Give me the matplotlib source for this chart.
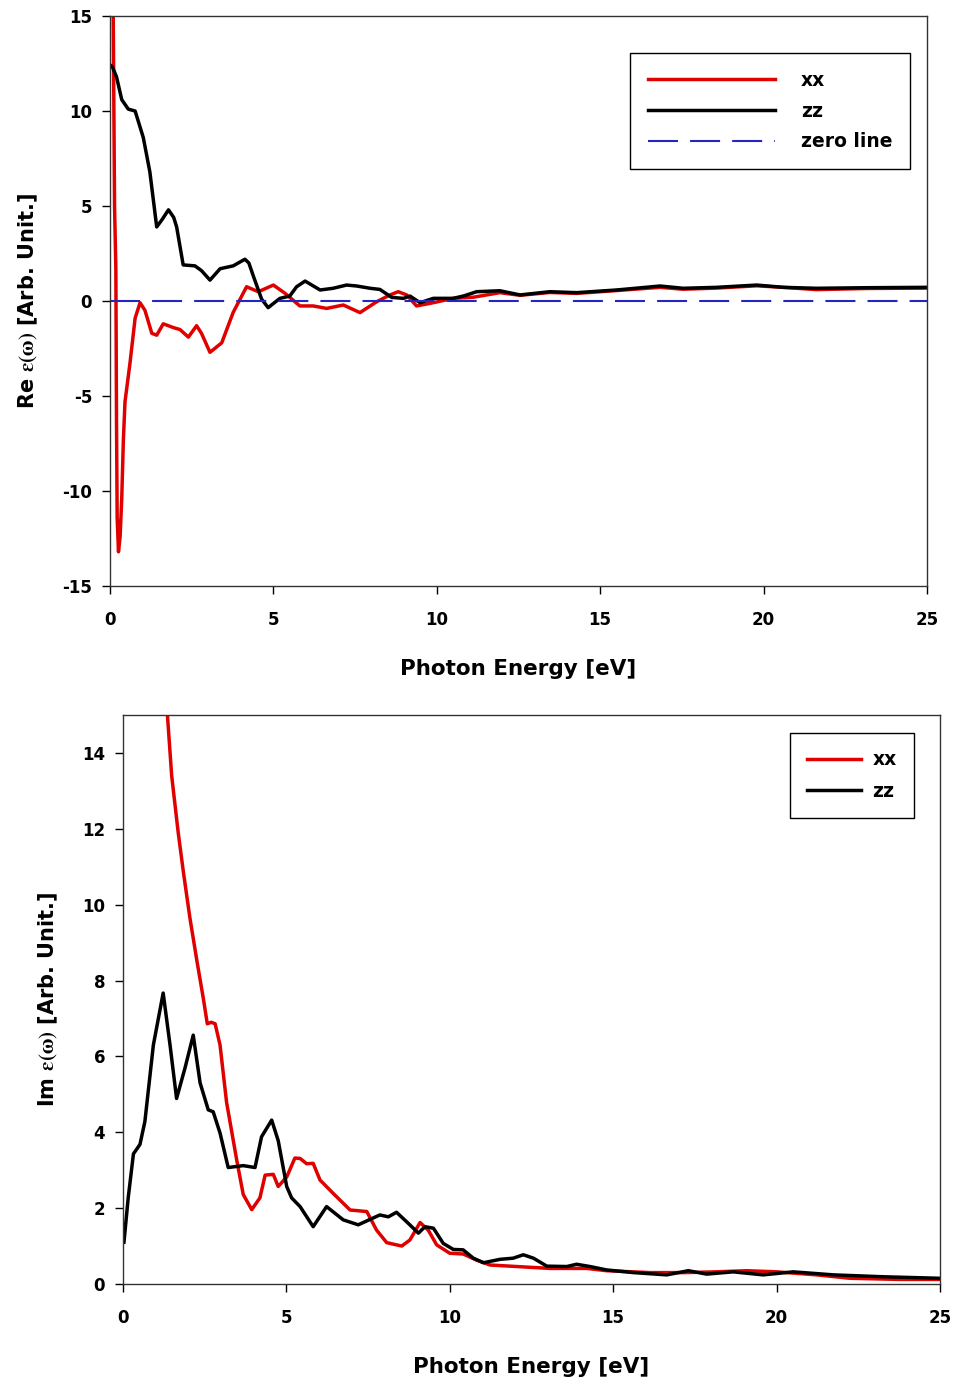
import numpy as np
import matplotlib
matplotlib.use("Agg")
import matplotlib.pyplot as plt

plt.rcParams["font.family"] = ["DejaVu Sans"]
plt.rcParams["font.weight"] = "bold"
plt.rcParams["axes.labelweight"] = "bold"
plt.rcParams["axes.unicode_minus"] = False
plt.rcParams["mathtext.fontset"] = "stix"

# Real part, xx
re_xx_e = [0.0, 0.06, 0.1, 0.14, 0.18, 0.2, 0.22, 0.26, 0.31, 0.36, 0.41, 0.46, 0.61, 0.77,
           0.92, 1.07, 1.28, 1.43, 1.63, 1.94, 2.14, 2.4, 2.65, 2.8, 3.06, 3.42, 3.77, 4.18,
           4.54, 5.0, 5.36, 5.81, 6.22, 6.63, 7.14, 7.65, 8.16, 8.57, 8.82, 9.08, 9.38, 9.89,
           10.5, 11.12, 11.93, 12.55, 13.46, 14.28, 15.5, 16.83, 17.54, 18.56, 19.79, 20.6,
           21.62, 23.15, 25.0]
re_xx = [60, 30, 15, 5, 1.7, -6.3, -11.4, -13.2, -12.4, -10.4, -7.3, -5.3, -3.3, -0.9,
         -0.09, -0.49, -1.7, -1.8, -1.2, -1.4, -1.5, -1.9, -1.3, -1.7, -2.7, -2.2, -0.6, 0.75,
         0.49, 0.84, 0.4, -0.26, -0.26, -0.39, -0.21, -0.61, -0.04, 0.32, 0.49, 0.32, -0.26, -0.09,
         0.14, 0.2, 0.44, 0.3, 0.45, 0.4, 0.55, 0.72, 0.62, 0.68, 0.8, 0.72,
         0.6, 0.66, 0.68]

# Real part, zz
re_zz_e = [0.02, 0.08, 0.2, 0.36, 0.56, 0.77, 1.02, 1.22, 1.43, 1.6, 1.79, 1.95, 2.04, 2.24,
           2.6, 2.8, 3.06, 3.37, 3.77, 4.13, 4.25, 4.39, 4.64, 4.84, 5.2, 5.5, 5.71, 5.97,
           6.43, 6.83, 7.24, 7.55, 7.96, 8.26, 8.62, 8.98, 9.18, 9.49, 9.89, 10.5, 10.81, 11.22,
           11.93, 12.55, 13.46, 14.28, 15.5, 16.83, 17.54, 18.56, 19.79, 20.6, 21.62, 23.15, 25.0]
re_zz = [12.4, 12.3, 11.8, 10.6, 10.1, 10.0, 8.6, 6.8, 3.9, 4.3, 4.8, 4.4, 3.9, 1.9,
         1.85, 1.6, 1.1, 1.7, 1.85, 2.2, 2.0, 1.3, 0.1, -0.35, 0.14, 0.26, 0.75, 1.05,
         0.58, 0.67, 0.84, 0.79, 0.67, 0.61, 0.19, 0.14, 0.26, -0.09, 0.14, 0.14, 0.26, 0.49,
         0.54, 0.32, 0.49, 0.44, 0.58, 0.79, 0.67, 0.72, 0.84, 0.72, 0.67, 0.7, 0.72]

# Imaginary part, xx
im_xx_e = [1.3, 1.36, 1.49, 1.69, 1.85, 2.05, 2.26, 2.46, 2.58, 2.7, 2.82, 2.97, 3.17, 3.48,
           3.68, 3.94, 4.19, 4.35, 4.6, 4.75, 5.01, 5.26, 5.42, 5.62, 5.82, 6.03, 6.43, 6.95,
           7.46, 7.76, 8.07, 8.53, 8.78, 9.09, 9.34, 9.6, 10.0, 10.41, 10.82, 11.23, 12.05,
           13.07, 14.19, 14.8, 16.13, 17.19, 18.16, 19.08, 20.0, 21.23, 22.25, 23.78, 25.0]
im_xx = [16.0, 15.0, 13.4, 11.9, 10.85, 9.64, 8.53, 7.52, 6.86, 6.9, 6.86, 6.3, 4.79, 3.27,
         2.36, 1.96, 2.27, 2.87, 2.89, 2.57, 2.82, 3.32, 3.31, 3.17, 3.18, 2.74, 2.39, 1.95,
         1.91, 1.42, 1.09, 1.0, 1.16, 1.62, 1.42, 1.03, 0.81, 0.79, 0.63, 0.5, 0.46,
         0.41, 0.41, 0.35, 0.3, 0.3, 0.32, 0.35, 0.32, 0.24, 0.15, 0.12, 0.12]

# Imaginary part, zz
im_zz_e = [0.03, 0.16, 0.32, 0.52, 0.67, 0.93, 1.23, 1.44, 1.64, 1.9, 2.15, 2.36, 2.61, 2.76,
           2.97, 3.22, 3.68, 4.04, 4.24, 4.55, 4.75, 5.01, 5.16, 5.42, 5.82, 6.23, 6.74, 7.2,
           7.86, 8.12, 8.37, 8.68, 9.04, 9.24, 9.5, 9.8, 10.11, 10.41, 10.72, 11.03, 11.54,
           11.94, 12.25, 12.56, 12.97, 13.58, 13.88, 14.29, 14.8, 15.62, 16.64, 17.3, 17.86,
           18.67, 19.59, 20.51, 21.74, 23.27, 25.0]
im_zz = [1.1, 2.27, 3.43, 3.68, 4.28, 6.3, 7.67, 6.3, 4.89, 5.7, 6.56, 5.3, 4.59, 4.54,
         3.98, 3.07, 3.12, 3.07, 3.88, 4.32, 3.78, 2.57, 2.27, 2.04, 1.51, 2.04, 1.69, 1.56,
         1.82, 1.77, 1.89, 1.64, 1.34, 1.51, 1.47, 1.07, 0.91, 0.9, 0.68, 0.56, 0.65,
         0.68, 0.77, 0.68, 0.47, 0.46, 0.52, 0.46, 0.37, 0.3, 0.24, 0.35, 0.26,
         0.32, 0.24, 0.32, 0.24, 0.19, 0.15]

RED = "#e00000"
BLUE = "#2525c0"

fig = plt.figure(figsize=(9.63, 13.83), dpi=100)
ax1 = fig.add_axes([0.1142, 0.5763, 0.8484, 0.4121])
ax2 = fig.add_axes([0.1277, 0.0716, 0.8484, 0.4114])

lw = 2.5
ax1.plot(re_xx_e, re_xx, color=RED, lw=lw, label="xx", solid_joinstyle="round")
ax1.plot(re_zz_e, re_zz, color="black", lw=lw, label="zz", solid_joinstyle="round")
ax1.plot([0, 25], [0, 0], color=BLUE, lw=1.5, dashes=(14.4, 5.8), label="zero line")
ax1.set_xlim(0, 25)
ax1.set_ylim(-15, 15)
ax1.set_xticks(np.arange(0, 26, 5))
ax1.set_yticks(np.arange(-15, 16, 5))
ax1.set_xlabel("Photon Energy [eV]", fontsize=15.5, labelpad=22)
ax1.set_ylabel(r"Re $\mathrm{\varepsilon(\omega)}$ [Arb. Unit.]", fontsize=15, labelpad=16)
ax1.legend(loc="upper left", bbox_to_anchor=(0.6365, 0.935), fontsize=13.5, frameon=True,
           fancybox=False, edgecolor="black", framealpha=1, handlelength=6.8,
           handletextpad=1.35, labelspacing=0.62, borderpad=0.95, borderaxespad=0)

ax2.plot(im_xx_e, im_xx, color=RED, lw=lw, label="xx", solid_joinstyle="round")
ax2.plot(im_zz_e, im_zz, color="black", lw=lw, label="zz", solid_joinstyle="round")
ax2.set_xlim(0, 25)
ax2.set_ylim(0, 15)
ax2.set_xticks(np.arange(0, 26, 5))
ax2.set_yticks(np.arange(0, 15, 2))
ax2.set_xlabel("Photon Energy [eV]", fontsize=15.5, labelpad=22)
ax2.set_ylabel(r"Im $\mathrm{\varepsilon(\omega)}$ [Arb. Unit.]", fontsize=15, labelpad=16)
ax2.legend(loc="upper left", bbox_to_anchor=(0.8164, 0.968), fontsize=13.5, frameon=True,
           fancybox=False, edgecolor="black", framealpha=1, handlelength=2.9,
           handletextpad=0.6, labelspacing=0.68, borderpad=0.9, borderaxespad=0)

for ax in (ax1, ax2):
    ax.tick_params(axis="both", direction="out", length=5.8, width=1, labelsize=12)
    ax.tick_params(axis="x", pad=12)
    ax.tick_params(axis="y", pad=7)
    for sp in ax.spines.values():
        sp.set_linewidth(1)
        sp.set_color("#333333")

fig.savefig("out.png", dpi=100)
